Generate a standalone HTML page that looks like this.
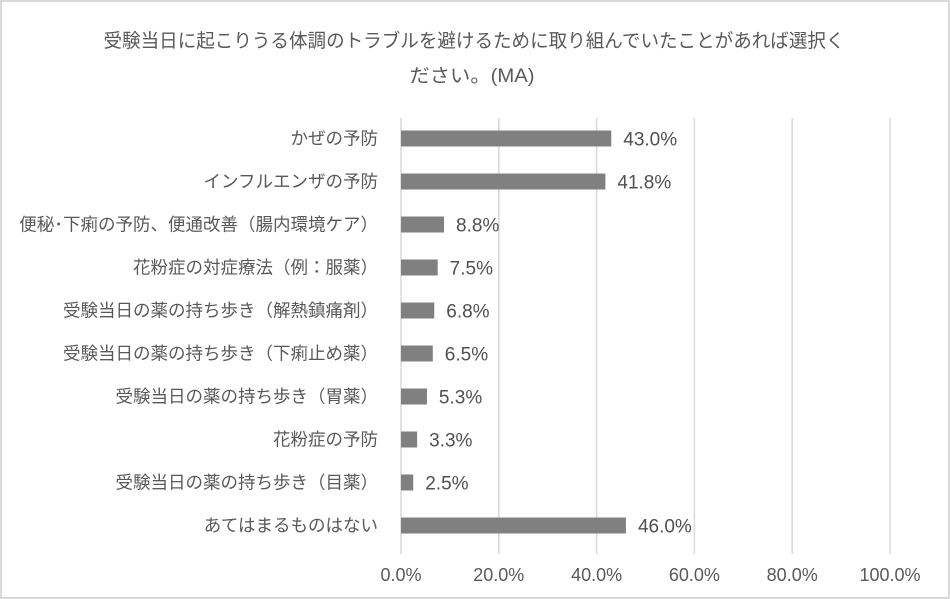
<!DOCTYPE html>
<html><head><meta charset="utf-8"><style>
html,body{margin:0;padding:0;background:#fff;}
svg{display:block;font-family:"Liberation Sans","Noto Sans CJK JP",sans-serif;}
</style></head><body>
<svg id="chart" width="950" height="599" viewBox="0 0 950 599">
<rect x="1" y="1" width="948" height="597" fill="#fff" stroke="#d9d9d9" stroke-width="2"/>
<text x="474" y="47" text-anchor="middle" font-size="19" fill="#595959" textLength="741" lengthAdjust="spacingAndGlyphs">受験当日に起こりうる体調のトラブルを避けるために取り組んでいたことがあれば選択く</text>
<text x="472" y="82" text-anchor="middle" font-size="19" fill="#595959" textLength="125" lengthAdjust="spacingAndGlyphs">ださい。(MA)</text>
<g id="grid"></g><g id="bars"></g>
</svg>
<script>
const categories=["かぜの予防","インフルエンザの予防","便秘･下痢の予防、便通改善（腸内環境ケア）","花粉症の対症療法（例：服薬）","受験当日の薬の持ち歩き（解熱鎮痛剤）","受験当日の薬の持ち歩き（下痢止め薬）","受験当日の薬の持ち歩き（胃薬）","花粉症の予防","受験当日の薬の持ち歩き（目薬）","あてはまるものはない"];
const values=[43.0,41.8,8.8,7.5,6.8,6.5,5.3,3.3,2.5,46.0];
const ticks=[0,20,40,60,80,100];
const NS="http://www.w3.org/2000/svg";
const X0=401,X1=890,Y_TOP=118,Y_BOT=554,ROW_H=43,FIRST_C=138.5,BAR_H=16;
function xs(v){return X0+(v/100)*(X1-X0);}
function yc(i){return FIRST_C+i*ROW_H;}
const gridG=document.getElementById('grid'),barsG=document.getElementById('bars');
ticks.forEach(function(t){
  const l=document.createElementNS(NS,'line');
  l.setAttribute('x1',xs(t));l.setAttribute('x2',xs(t));l.setAttribute('y1',Y_TOP);l.setAttribute('y2',Y_BOT);
  l.setAttribute('stroke','#d9d9d9');l.setAttribute('stroke-width','1.5');
  
  
  gridG.appendChild(l);
  const tx=document.createElementNS(NS,'text');
  tx.setAttribute('x',xs(t));tx.setAttribute('y',581);tx.setAttribute('text-anchor','middle');
  tx.setAttribute('font-size','18');tx.setAttribute('fill','#595959');
  tx.textContent=t.toFixed(1)+'%';
  
  
  gridG.appendChild(tx);
});
categories.forEach(function(c,i){
  const y=yc(i);
  const lb=document.createElementNS(NS,'text');
  lb.setAttribute('x',378);lb.setAttribute('y',y+6);lb.setAttribute('text-anchor','end');
  lb.setAttribute('font-size','17.5');lb.setAttribute('fill','#595959');
  lb.textContent=c;
  
  
  barsG.appendChild(lb);
  const r=document.createElementNS(NS,'rect');
  r.setAttribute('x',X0);r.setAttribute('y',y-BAR_H/2);r.setAttribute('width',xs(values[i])-X0);r.setAttribute('height',BAR_H);
  r.setAttribute('fill','#808080');
  
  
  barsG.appendChild(r);
  const v=document.createElementNS(NS,'text');
  v.setAttribute('x',xs(values[i])+12);v.setAttribute('y',y+7);
  v.setAttribute('font-size','19');v.setAttribute('fill','#505050');
  v.textContent=values[i].toFixed(1)+'%';
  
  
  barsG.appendChild(v);
});
</script>
</body></html>
